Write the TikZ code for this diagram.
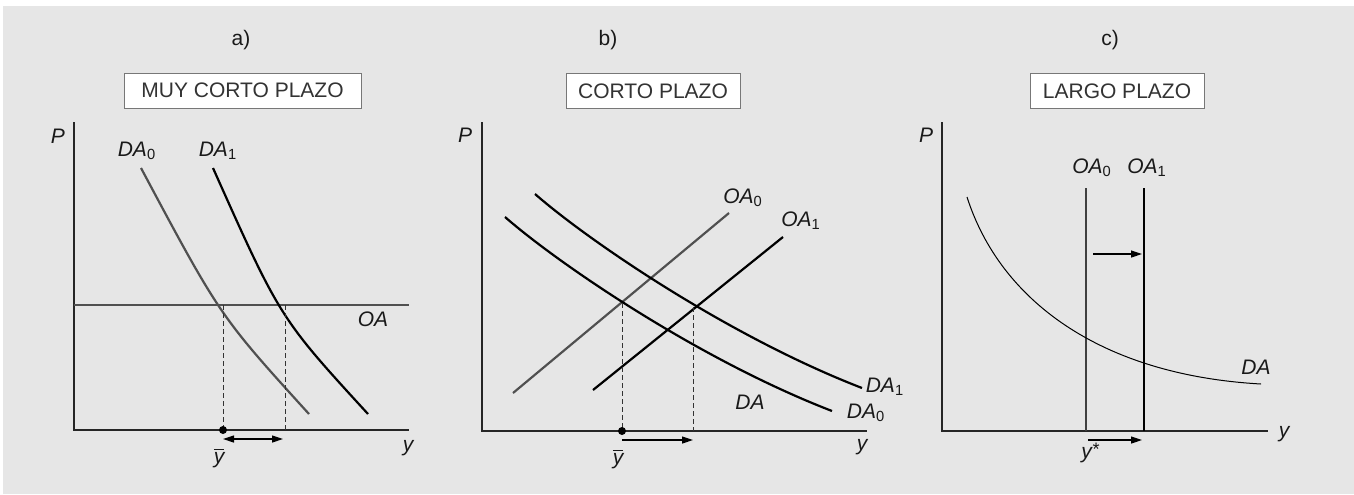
\documentclass[tikz,border=0pt]{standalone}
\usepackage{fontspec}
\setmainfont{Liberation Sans}
\usetikzlibrary{arrows.meta}
\definecolor{sfondo}{HTML}{E6E6E6}
\definecolor{grigio}{HTML}{505050}
\definecolor{bordo}{HTML}{777777}
\definecolor{testo}{HTML}{333333}
\newcommand{\etichetta}[2]{#1\textsubscript{\upshape #2}}

\begin{document}
\begin{tikzpicture}[x=0.5pt, y=-0.5pt,
  asse/.style={line width=0.75pt, draw=black!85},
  curva/.style={line width=1.1pt},
  guida/.style={line width=0.5pt, dash pattern=on 2.5pt off 1.5pt, draw=black!80},
  etq/.style={font=\fontsize{10.5}{12}\selectfont\itshape, text=black!90, inner sep=0.5pt},
  lettera/.style={font=\fontsize{10.5}{12}\selectfont, text=black!90, inner sep=0.5pt},
  titolo/.style={draw=bordo, fill=white, line width=0.5pt, text=testo,
    font=\fontsize{10.5}{12}\selectfont, minimum height=17.5pt, inner sep=0pt},
  freccia/.style={-{Triangle[length=5.5pt,width=3.5pt]}, line width=0.6pt},
  doppia/.style={{Triangle[length=5.5pt,width=3.5pt]}-{Triangle[length=5.5pt,width=3.5pt]}, line width=0.6pt}]
  \useasboundingbox (0,0) rectangle (1354,494);
  % Background
  \fill[white] (0,0) rectangle (1354,494);
  \fill[sfondo] (3,6) rectangle (1354,494);

  % Panel a: muy corto plazo
  \node[lettera] (la) at (241,40) {a)};
  \node[titolo, minimum width=118.5pt] (ba) at (242.5,90.5) {MUY CORTO PLAZO};
  \coordinate (oa) at (74,430);
  \draw[asse] (74,122) -- (oa) -- (409,430);
  \node[etq] (pa) at (58,136) {P};
  \node[etq] (ya) at (408,448) {y};
  \draw[asse, draw=grigio] (74,305) -- (409,305);
  \node[etq] (oalab) at (373,319) {OA};
  \draw[curva, grigio] (141,168) .. controls (220,316) .. (309,414);
  \draw[curva] (213,168) .. controls (280,318) .. (368,414);
  \node[etq] (da0a) at (137,151) {\etichetta{DA}{0}};
  \node[etq] (da1a) at (218,151) {\etichetta{DA}{1}};
  \coordinate (ea0) at (223,305);
  \coordinate (ea1) at (285,305);
  \draw[guida] (ea0) -- (ea0 |- oa);
  \draw[guida] (ea1) -- (ea1 |- oa);
  \fill (ea0 |- oa) circle (2pt);
  \draw[doppia] ([yshift=-4.5pt]ea0 |- oa) -- ([yshift=-4.5pt,xshift=-1pt]ea1 |- oa);
  \node[etq] (ybara) at (219,458) {$\overline{\mbox{\itshape y}}$};

  % Panel b: corto plazo
  \node[lettera] (lb) at (608,40) {b)};
  \node[titolo, minimum width=87pt] (bb) at (653,91) {CORTO PLAZO};
  \coordinate (ob) at (482,431);
  \draw[asse] (482,122) -- (ob) -- (867,431);
  \node[etq] (pb) at (465,135) {P};
  \node[etq] (yb) at (862,447) {y};
  \draw[curva, grigio] (513,393) -- (729,213);
  \draw[curva] (593,390) -- (783,237);
  \node[etq] (oa0b) at (743,198) {\etichetta{OA}{0}};
  \node[etq] (oa1b) at (801,221) {\etichetta{OA}{1}};
  \draw[curva] (505,217) .. controls (560,265) and (700,360) .. (832,411);
  \draw[curva] (535,194) .. controls (590,242) and (730,337) .. (862,388);
  \node[etq] (da1b) at (885,387) {\etichetta{DA}{1}};
  \node[etq] (da0b) at (866,413) {\etichetta{DA}{0}};
  \node[etq] (dab) at (750,402) {DA};
  \coordinate (eb0) at (622,303);
  \coordinate (eb1) at (693,307);
  \draw[guida] (eb0) -- (eb0 |- ob);
  \draw[guida] (eb1) -- (eb1 |- ob);
  \fill (eb0 |- ob) circle (2pt);
  \draw[freccia] ([yshift=-4.5pt]eb0 |- ob) -- ([yshift=-4.5pt]eb1 |- ob);
  \node[etq] (ybarb) at (618,459) {$\overline{\mbox{\itshape y}}$};

  % Panel c: largo plazo
  \node[lettera] (lc) at (1110,40) {c)};
  \node[titolo, minimum width=87pt] (bc) at (1117,91) {LARGO PLAZO};
  \coordinate (oc) at (942,431);
  \draw[asse] (942,122) -- (oc) -- (1268,431);
  \node[etq] (pc) at (926,135) {P};
  \node[etq] (yc) at (1284,434) {y};
  \coordinate (oa0c) at (1086,188);
  \coordinate (oa1c) at (1144,188);
  \draw[curva, draw=black!75, line width=1.3pt] (oa0c) -- (oa0c |- oc);
  \draw[curva, line width=1.3pt] (oa1c) -- (oa1c |- oc);
  \node[etq] (loa0c) at (1092,168) {\etichetta{OA}{0}};
  \node[etq] (loa1c) at (1147,168) {\etichetta{OA}{1}};
  \draw[line width=0.5pt] (967,197) .. controls (1000,300) and (1100,375) .. (1261,384);
  \node[etq] (dac) at (1256,367) {DA};
  \draw[freccia] (1093,254) -- (1142,254);
  \draw[freccia] ([yshift=-4.5pt,xshift=1pt]oa0c |- oc) -- ([yshift=-4.5pt,xshift=-1pt]oa1c |- oc);
  \node[etq] (ystar) at (1090,453) {y\raisebox{0.3ex}{\fontsize{9}{9}\selectfont *}};
\end{tikzpicture}
\end{document}
